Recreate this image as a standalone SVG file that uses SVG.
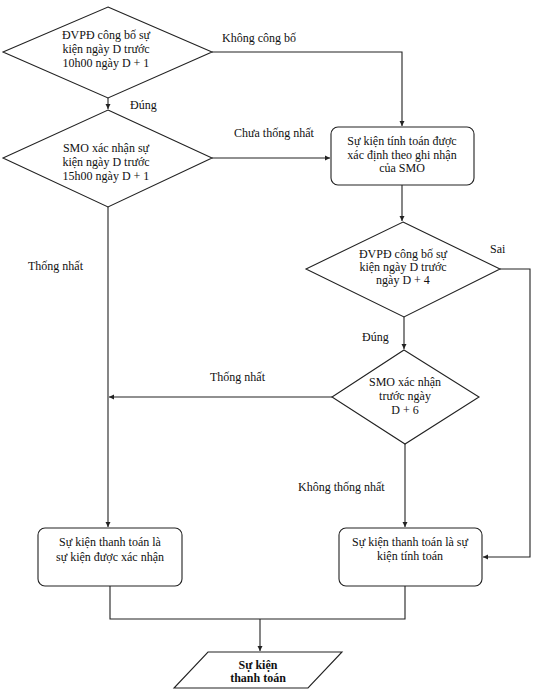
<svg xmlns="http://www.w3.org/2000/svg" width="539" height="695" viewBox="0 0 539 695">
<style>
.s{fill:#fff;stroke:#222;stroke-width:1.1}
.c{fill:none;stroke:#222;stroke-width:1.1}
text{font-family:"Liberation Serif","Times New Roman",serif;font-size:12px;fill:#111}
.m{text-anchor:middle}
.b{font-weight:bold}
</style>
<defs>
<marker id="a" markerWidth="6" markerHeight="6" refX="5" refY="3" orient="auto" markerUnits="userSpaceOnUse">
<path d="M0,0.5 L5,3 L0,5.5 Z" fill="#222"/>
</marker>
</defs>
<g id="connectors">
<path class="c" d="M108,98 V109" marker-end="url(#a)"/>
<path class="c" d="M212,52 H402 V126" marker-end="url(#a)"/>
<path class="c" d="M212,158 H330" marker-end="url(#a)"/>
<path class="c" d="M402,185 V221" marker-end="url(#a)"/>
<path class="c" d="M500,269 H530 V557 H483" marker-end="url(#a)"/>
<path class="c" d="M404,317 V349" marker-end="url(#a)"/>
<path class="c" d="M332,397 H109" marker-end="url(#a)"/>
<path class="c" d="M108,207 V527" marker-end="url(#a)"/>
<path class="c" d="M405,444 V527" marker-end="url(#a)"/>
<path class="c" d="M110,586 V619 H405 V586"/>
<path class="c" d="M260,619 V651" marker-end="url(#a)"/>
<text x="222" y="42">Không  công bố</text>
<text x="130" y="109">Đúng</text>
<text x="234" y="137">Chưa thống  nhất</text>
<text x="28" y="270">Thống  nhất</text>
<text x="490" y="253">Sai</text>
<text x="362" y="341">Đúng</text>
<text x="210" y="381">Thống  nhất</text>
<text x="298" y="491">Không  thống  nhất</text>
</g>
<g id="d1">
<polygon class="s" points="108,7 212,52 108,98 3,52"/>
<text class="m" x="106" y="39">ĐVPĐ công bố sự</text>
<text class="m" x="106" y="53">kiện ngày D trước</text>
<text class="m" x="106" y="67">10h00 ngày D + 1</text>
</g>
<g id="d2">
<polygon class="s" points="108,110 212,158 108,207 3,158"/>
<text class="m" x="106" y="152">SMO xác nhận sự</text>
<text class="m" x="106" y="166">kiện ngày D trước</text>
<text class="m" x="106" y="180">15h00 ngày D + 1</text>
</g>
<g id="b1">
<rect class="s" x="331" y="127" width="143" height="58" rx="7"/>
<text class="m" x="402" y="145">Sự kiện tính toán được</text>
<text class="m" x="402" y="159">xác định theo ghi nhận</text>
<text class="m" x="402" y="172">của SMO</text>
</g>
<g id="d3">
<polygon class="s" points="403,222 500,269 404,317 306,269"/>
<text class="m" x="403" y="258">ĐVPĐ công bố sự</text>
<text class="m" x="403" y="271">kiện ngày D trước</text>
<text class="m" x="403" y="284">ngày D + 4</text>
</g>
<g id="d4">
<polygon class="s" points="404,350 479,397 405,444 332,397"/>
<text class="m" x="405" y="386">SMO xác nhận</text>
<text class="m" x="405" y="400">trước  ngày</text>
<text class="m" x="405" y="414">D + 6</text>
</g>
<g id="b2">
<rect class="s" x="38" y="528" width="144" height="58" rx="7"/>
<text class="m" x="110" y="546">Sự kiện thanh toán là</text>
<text class="m" x="110" y="561">sự kiện được xác nhận</text>
</g>
<g id="b3">
<rect class="s" x="339" y="528" width="143" height="58" rx="7"/>
<text class="m" x="410" y="546">Sự kiện  thanh toán là sự</text>
<text class="m" x="410" y="560">kiện tính toán</text>
</g>
<g id="out">
<polygon class="s" points="208,652 342,652 308,688 174,688"/>
<text class="m b" x="258" y="669">Sự kiện</text>
<text class="m b" x="258" y="682">thanh toán</text>
</g>
</svg>
